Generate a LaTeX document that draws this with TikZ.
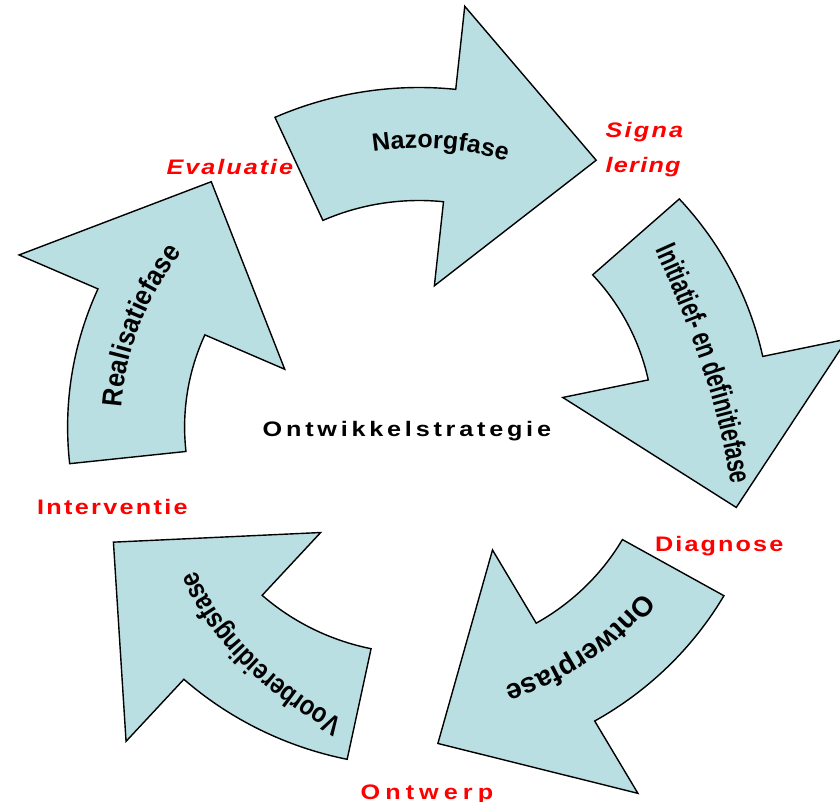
\documentclass[tikz,border=0pt]{standalone}
\usepackage{fontspec}
\setmainfont{Liberation Sans}
\usetikzlibrary{decorations.text}

\definecolor{bandfill}{RGB}{186,223,227}
\definecolor{labelred}{RGB}{255,0,0}

\tikzset{
  phasearrow/.style={fill=bandfill, draw=black, line width=1.4pt, line join=miter},
  stagelabel/.style={text=labelred, inner sep=0pt, anchor=base west},
  centrelabel/.style={text=black, inner sep=0pt, anchor=base west},
}

% wide, letter-spaced bold label font
\newcommand{\lblfont}[1]{\bfseries\fontsize{21}{25}\selectfont\addfontfeature{FakeStretch=1.2,LetterSpace=#1}}
% font for the curved phase names: size, horizontal stretch
\newcommand{\arcfont}[2]{\bfseries\fontsize{#1}{#1}\selectfont\addfontfeature{FakeStretch=#2}}

\begin{document}
\begin{tikzpicture}[x=1pt,y=1pt]
\useasboundingbox (0,0) rectangle (840,-802);
\coordinate (c) at (419,-427);

% five curved phase arrows around the centre
\foreach \k in {0,...,4}{
  \pgfmathsetmacro\angA{114.2-72*\k}
  \pgfmathsetmacro\angH{84-72*\k}
  \pgfmathsetmacro\angP{57.3-72*\k}
  \draw[phasearrow, shift={(c)}]
    (\angA:351.4pt and 339.5pt)
      arc[start angle=\angA, end angle=\angH, x radius=351.4pt, y radius=339.5pt]
    -- (\angH:437.8pt and 423pt)
    -- (\angP:328pt and 317pt)
    -- (\angH:147pt and 142pt)
    -- (\angH:234.4pt and 226.5pt)
      arc[start angle=\angH, end angle=\angA, x radius=234.4pt, y radius=226.5pt]
    -- cycle;
}

% curved phase names, read clockwise with their tops outward
\path[shift={(c)}, decorate, decoration={text along path, text align=center,
    text={|\arcfont{25}{1}|Nazorgfase}}]
  (125.7:288.7pt and 279pt) arc[start angle=125.7, end angle=45.7, x radius=288.7pt, y radius=279pt];
\path[shift={(c)}, decorate, decoration={text along path, text align=center, raise=-10pt,
    text={|\arcfont{30}{0.71}|Initiatief- en definitiefase}}]
  (238,198) .. controls (282,102) and (312,22) .. (324,-74);
\path[shift={(c)}, decorate, decoration={text along path, text align=center,
    text={|\arcfont{28}{1}|Ontwerpfase}}]
  (-14.5:281.5pt and 272pt) arc[start angle=-14.5, end angle=-94.5, x radius=281.5pt, y radius=272pt];
\path[shift={(c)}, decorate, decoration={text along path, text align=center, raise=-9pt,
    text={|\arcfont{28}{0.84}|Voorbereidingsfase}}]
  (-67,-309) .. controls (-144,-267) and (-209,-213.5) .. (-237,-133);
\path[shift={(c)}, decorate, decoration={text along path, text align=center,
    text={|\arcfont{28}{0.9}|Realisatiefase}}]
  (199.6:298pt and 288pt) arc[start angle=199.6, end angle=119.6, x radius=298pt, y radius=288pt];

% stage labels between the arrows
\node[stagelabel, font=\lblfont{10.5}\itshape] (signa) at (605.5,-138) {Signa};
\node[stagelabel, font=\lblfont{6}\itshape] (lering) at (605.5,-173) {lering};
\node[stagelabel, font=\lblfont{9.4}\itshape] (evaluatie) at (166.5,-174.5) {Evaluatie};
\node[stagelabel, font=\lblfont{11}] (interventie) at (37,-514.5) {Interventie};
\node[stagelabel, font=\lblfont{10}] (diagnose) at (655,-551) {Diagnose};
\node[stagelabel, font=\lblfont{24}] (ontwerp) at (360.5,-799) {Ontwerp};
\node[centrelabel, font=\lblfont{18}] (centre) at (262.5,-436.5) {Ontwikkelstrategie};
\end{tikzpicture}
\end{document}
